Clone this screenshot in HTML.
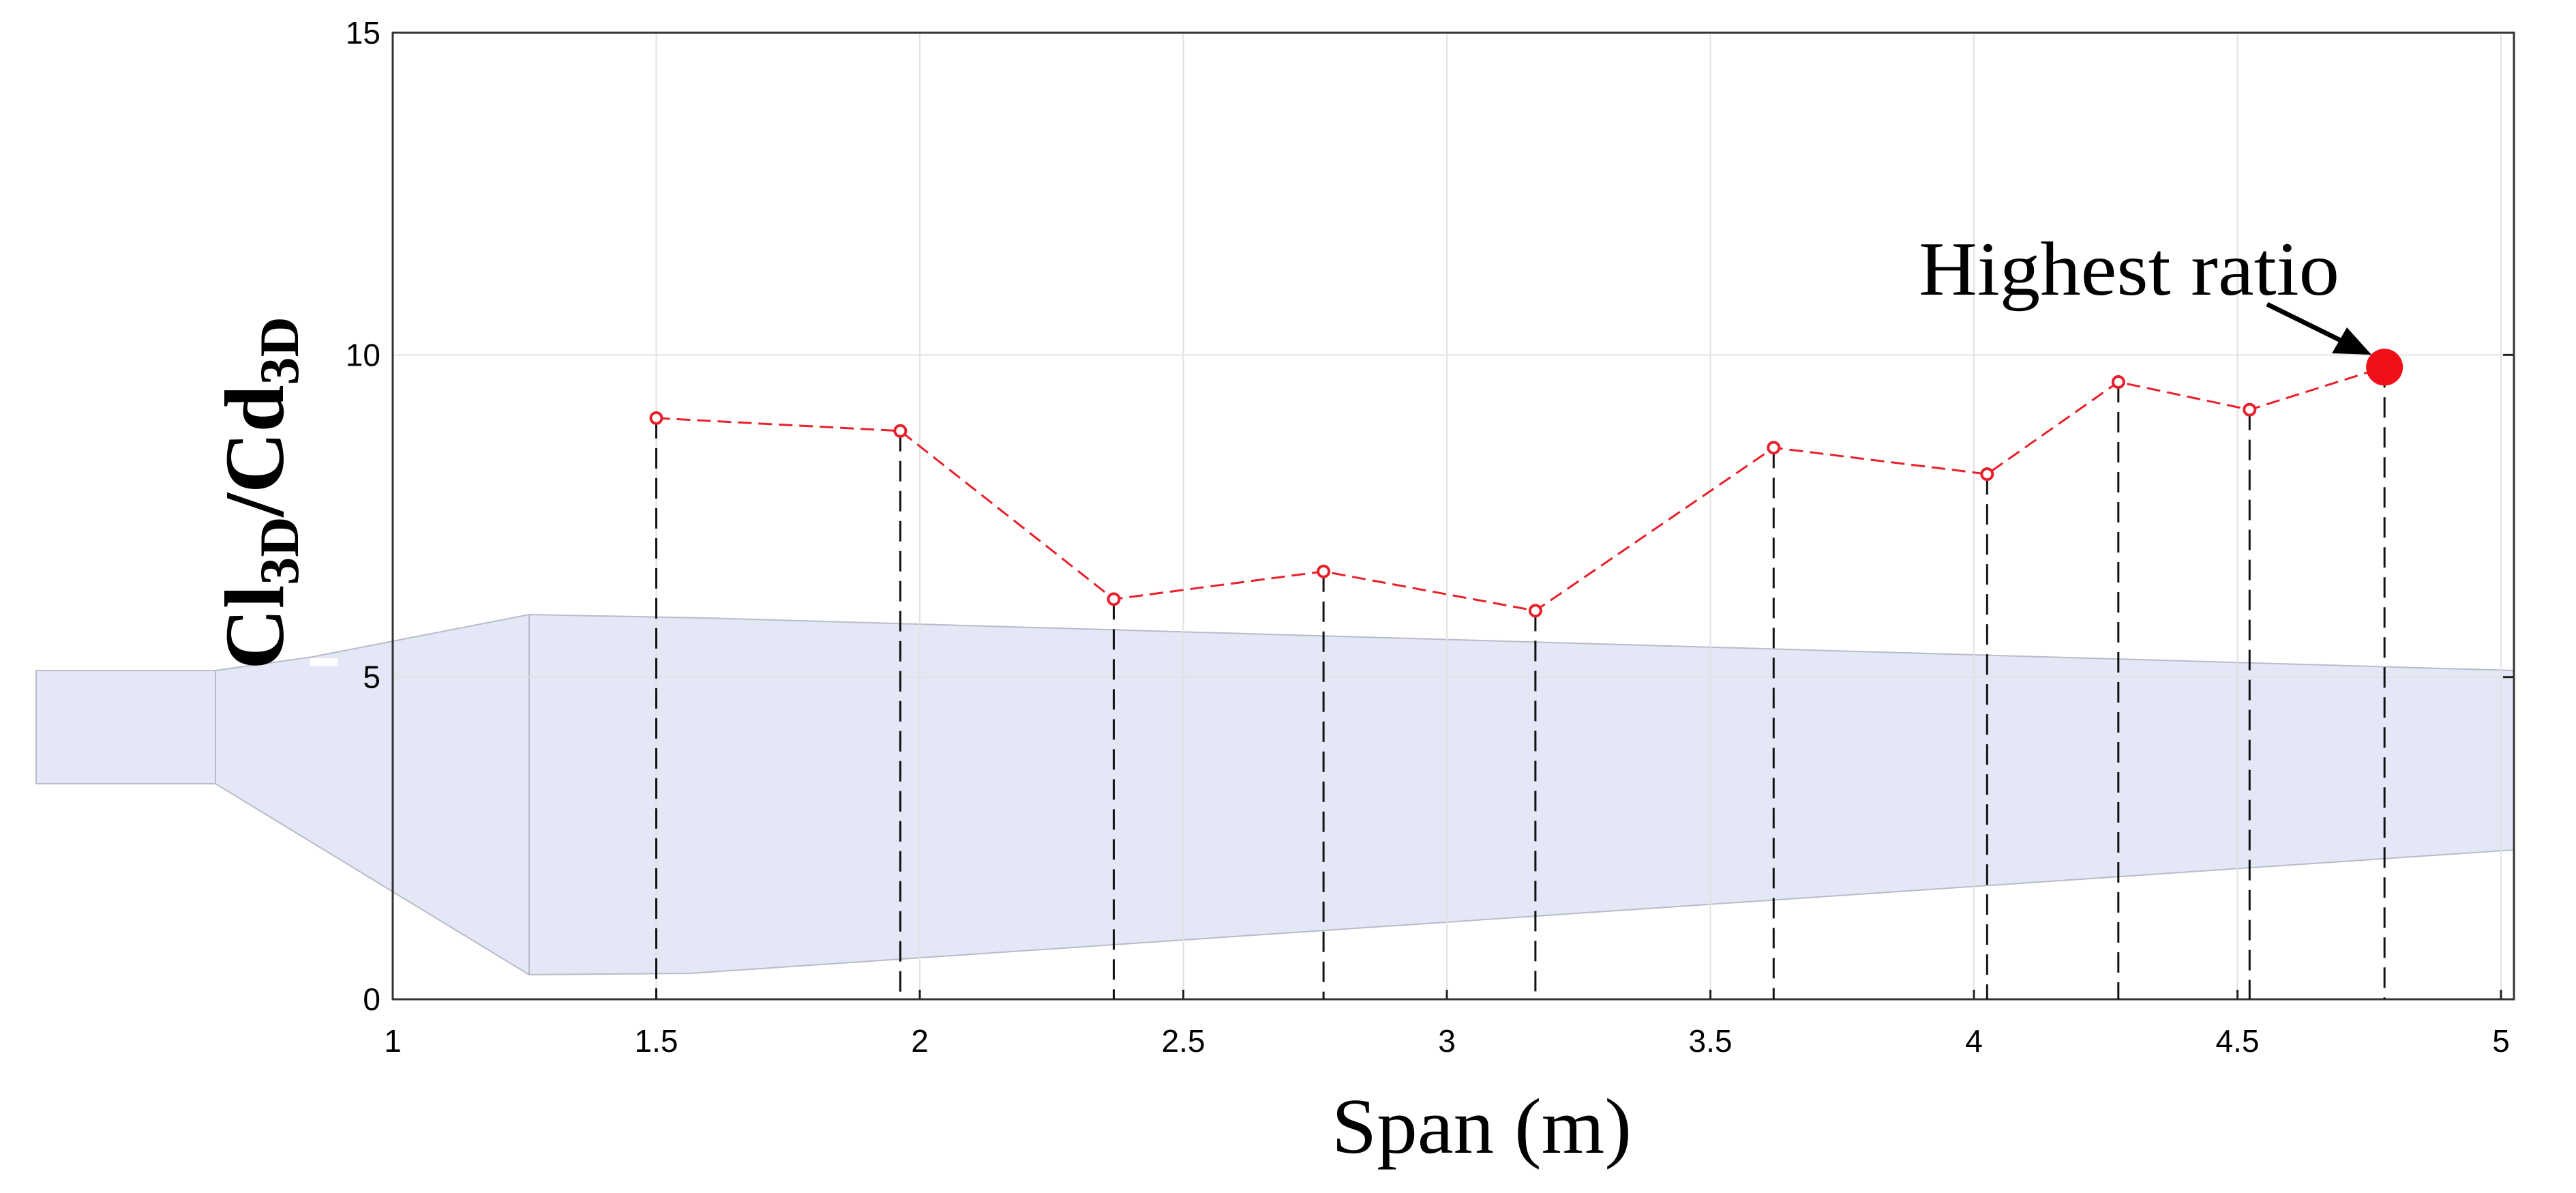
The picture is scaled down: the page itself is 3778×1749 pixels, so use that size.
<!DOCTYPE html>
<html><head><meta charset="utf-8"><style>
html,body{margin:0;padding:0;background:#fff;}
svg{display:block;}
text{font-family:"Liberation Sans",sans-serif;}
.ser{font-family:"Liberation Serif",serif;}
</style></head><body>
<svg id="chart" width="3778" height="1749" viewBox="0 0 3778 1749" xmlns="http://www.w3.org/2000/svg">
<g id="blade">
  <polygon points="53,983 316,983 316,1149 53,1149" fill="#e3e7f6" stroke="#b8bcc8" stroke-width="2"/>
  <polygon points="316,983 458,963 776,901 1036,906 3687,983 3687,1246 1012,1427 776,1429 316,1149" fill="#e3e7f6" stroke="#b8bcc8" stroke-width="2"/>
  <line x1="776" y1="901" x2="776" y2="1429" stroke="#b8bcc8" stroke-width="2"/>
  <rect x="455" y="965" width="40" height="12" fill="#fff"/>
</g>
<g id="grid"></g>
<g id="axes"></g>
<g id="drops"></g>
<g id="series"></g>
<text class="ser" transform="translate(415,723) rotate(-90)" text-anchor="middle" font-size="124" font-weight="bold">Cl<tspan font-size="82" dy="22">3D</tspan><tspan dy="-22">/Cd</tspan><tspan font-size="82" dy="22">3D</tspan></text>
<text class="ser" x="2173" y="1690" text-anchor="middle" font-size="116" textLength="440" lengthAdjust="spacingAndGlyphs">Span (m)</text>
<text class="ser" x="2814" y="432" font-size="112" textLength="617" lengthAdjust="spacingAndGlyphs">Highest ratio</text>
<g>
  <line x1="3325" y1="446" x2="3445" y2="505" stroke="#000" stroke-width="7"/>
  <polygon points="3478,520 3420,518 3442,480" fill="#000"/>
</g>
<script>
const xTicks=[1,1.5,2,2.5,3,3.5,4,4.5,5];
const yTicks=[0,5,10,15];
const spanX=[1.5,1.963,2.368,2.766,3.168,3.62,4.025,4.274,4.523];
const ratioY=[9.02,8.82,6.21,6.64,6.03,8.56,8.15,9.58,9.15];
const bestX=[4.779];
const bestY=[9.81];
const NS='http://www.w3.org/2000/svg';
const X0=576,X1=3668,Y0=1465,Y1=48,RIGHT=3687;
function sx(v){return X0+(v-1)/(5-1)*(X1-X0);}
function sy(v){return Y0-(v-0)/(15-0)*(Y0-Y1);}
function mk(tag,attrs,parent){const e=document.createElementNS(NS,tag);for(const k in attrs)e.setAttribute(k,attrs[k]);parent.appendChild(e);return e;}
const grid=document.getElementById('grid'),axes=document.getElementById('axes'),drops=document.getElementById('drops'),series=document.getElementById('series');
xTicks.forEach(t=>{
  const g=mk('line',{x1:sx(t),x2:sx(t),y1:Y1,y2:Y0,stroke:'#e2e2e2','stroke-width':2},grid);
  
  
  const tk=mk('line',{x1:sx(t),x2:sx(t),y1:Y0,y2:Y0-14,stroke:'#222','stroke-width':3},axes);
  
  
  const lb=mk('text',{x:sx(t),y:1542,'text-anchor':'middle','font-size':46},axes);
  lb.textContent=String(t);
  
  
});
yTicks.forEach(t=>{
  const g=mk('line',{x1:X0,x2:RIGHT,y1:sy(t),y2:sy(t),stroke:'#e2e2e2','stroke-width':2},grid);
  
  
  const tk=mk('line',{x1:RIGHT-16,x2:RIGHT,y1:sy(t),y2:sy(t),stroke:'#222','stroke-width':3},axes);
  
  
  const lb=mk('text',{x:558,y:sy(t)+16,'text-anchor':'end','font-size':46},axes);
  lb.textContent=String(t);
  
  
});
const box=mk('rect',{x:X0,y:Y1,width:RIGHT-X0,height:Y0-Y1,fill:'none',stroke:'#333','stroke-width':3},axes);


const allX=spanX.concat(bestX),allY=ratioY.concat(bestY);
allX.forEach((x,i)=>{
  const d=mk('line',{x1:sx(x),x2:sx(x),y1:sy(allY[i]),y2:Y0,stroke:'#111','stroke-width':3,'stroke-dasharray':'30 14'},drops);
  
  
});
const pl=mk('polyline',{points:allX.map((x,i)=>sx(x)+','+sy(allY[i])).join(' '),fill:'none',stroke:'#e8202a','stroke-width':3,'stroke-dasharray':'20 10'},series);


spanX.forEach((x,i)=>{
  const c=mk('circle',{cx:sx(x),cy:sy(ratioY[i]),r:8,fill:'#fff',stroke:'#e8202a','stroke-width':4},series);
  
  
});
const b=mk('circle',{cx:sx(bestX[0]),cy:sy(bestY[0]),r:27,fill:'#f0101a'},series);


</script>
</svg>
</body></html>
